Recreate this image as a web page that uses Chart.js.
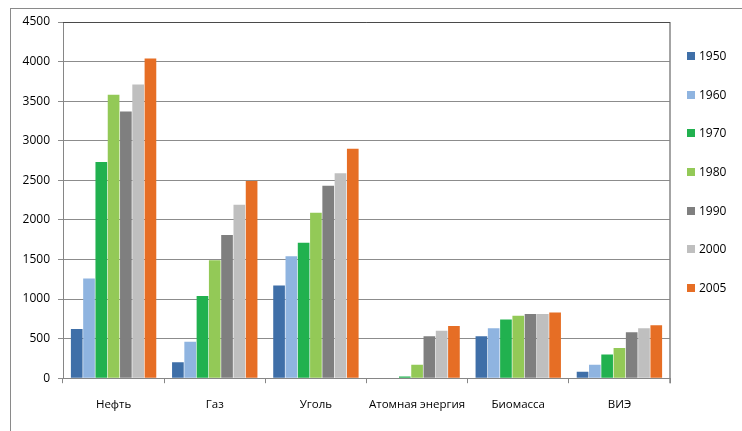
<!DOCTYPE html>
<html>
<head>
<meta charset="utf-8">
<script src="https://cdn.jsdelivr.net/npm/chart.js@4.4.1/dist/chart.umd.min.js"></script>
<style>
  html, body { margin: 0; padding: 0; background: #fff; }
  #wrap { width: 742px; height: 431px; position: relative; }
</style>
</head>
<body>
<div id="wrap"><canvas id="c" width="742" height="431"></canvas></div>
<script>
// Energy sources and yearly consumption per source
const categories = ['Нефть', 'Газ', 'Уголь', 'Атомная энергия', 'Биомасса', 'ВИЭ'];
const years = ['1950', '1960', '1970', '1980', '1990', '2000', '2005'];

const v1950 = [620, 200, 1170, 0, 530, 80];
const v1960 = [1260, 460, 1540, 0, 630, 170];
const v1970 = [2730, 1040, 1710, 20, 740, 300];
const v1980 = [3580, 1490, 2090, 170, 790, 380];
const v1990 = [3370, 1810, 2430, 530, 810, 580];
const v2000 = [3710, 2190, 2590, 600, 810, 630];
const v2005 = [4040, 2490, 2900, 660, 830, 670];

const yTicks = [0, 500, 1000, 1500, 2000, 2500, 3000, 3500, 4000, 4500];

const seriesValues = [v1950, v1960, v1970, v1980, v1990, v2000, v2005];
const seriesColors = ['#3f6fa8', '#8fb4e0', '#21b14f', '#93c957', '#7f7f7f', '#bfbfbf', '#e66e25'];

const FONT = "'Open Sans', 'DejaVu Sans', sans-serif";

// Outer frame, right border of the plot area and the legend column
const framePlugin = {
  id: 'frame',
  beforeDraw(chart) {
    const ctx = chart.ctx;
    ctx.save();
    ctx.fillStyle = '#ffffff';
    ctx.fillRect(0, 0, chart.width, chart.height);
    ctx.strokeStyle = '#8a8a8a';
    ctx.lineWidth = 1;
    ctx.strokeRect(10.5, 8.5, chart.width + 20, chart.height + 20);
    ctx.restore();
  },
  afterDraw(chart) {
    const ctx = chart.ctx;
    const a = chart.chartArea;
    ctx.save();
    ctx.strokeStyle = '#868686';
    ctx.lineWidth = 1.5;
    ctx.beginPath();
    ctx.moveTo(a.right, a.top);
    ctx.lineTo(a.right, a.bottom + 5);
    ctx.stroke();
    ctx.strokeStyle = '#4a4a4a';
    ctx.lineWidth = 1;
    ctx.beginPath();
    ctx.moveTo(a.left, a.top + 0.5);
    ctx.lineTo(a.right, a.top + 0.5);
    ctx.stroke();

    // legend
    ctx.font = '12px ' + FONT;
    ctx.textBaseline = 'middle';
    ctx.textAlign = 'left';
    chart.data.datasets.forEach((ds, i) => {
      const cy = 56 + i * 38.67;
      ctx.fillStyle = ds.backgroundColor;
      ctx.fillRect(687, Math.round(cy - 4), 8, 8);
      ctx.fillStyle = '#000000';
      ctx.fillText(ds.label, 699, cy + 0.5);
    });
    ctx.restore();
  }
};

new Chart(document.getElementById('c'), {
  type: 'bar',
  data: {
    labels: categories,
    datasets: years.map((y, i) => ({
      label: y,
      data: seriesValues[i],
      backgroundColor: seriesColors[i],
      borderWidth: 0,
      barPercentage: 0.95,
      categoryPercentage: 0.85
    }))
  },
  options: {
    responsive: false,
    animation: false,
    devicePixelRatio: 1,
    layout: { padding: { left: 10, right: 72, top: 22, bottom: 4 } },
    plugins: {
      legend: { display: false },
      tooltip: { enabled: false }
    },
    scales: {
      x: {
        offset: true,
        grid: {
          offset: true,
          drawOnChartArea: false,
          drawTicks: true,
          tickLength: 5,
          color: '#868686'
        },
        border: { color: '#868686', width: 1 },
        ticks: {
          color: '#000000',
          padding: 15,
          font: { family: FONT, size: 11.5 },
          maxRotation: 0,
          autoSkip: false
        }
      },
      y: {
        min: 0,
        max: 4500,
        afterFit(scale) { scale.width = 53; },
        afterBuildTicks(scale) { scale.ticks = yTicks.map(v => ({ value: v })); },
        grid: {
          color: '#8c8c8c',
          tickLength: 5,
          drawTicks: true
        },
        border: { color: '#868686', width: 1 },
        ticks: {
          color: '#000000',
          padding: 8,
          font: { family: FONT, size: 12 },
          callback: (v) => String(v)
        }
      }
    }
  },
  plugins: [framePlugin]
});
</script>
</body>
</html>
